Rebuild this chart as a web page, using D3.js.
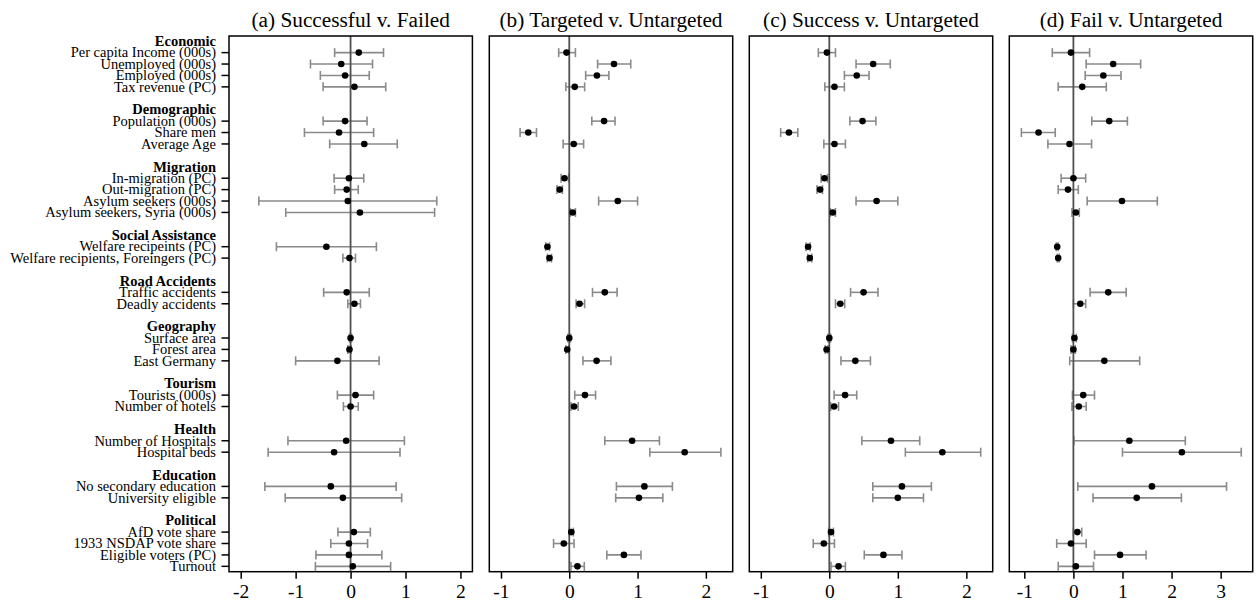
<!DOCTYPE html>
<html>
<head>
<meta charset="utf-8">
<script src="https://cdn.jsdelivr.net/npm/d3@7"></script>
<style>
  html, body { margin: 0; padding: 0; background: #fff; }
  svg { display: block; font-family: "Liberation Serif", "Times New Roman", serif; }
</style>
</head>
<body>
<svg id="chart" width="1259" height="606"></svg>
<script>
// Variable groups and the covariates listed under each one
const groupNames = ["Economic", "Demographic", "Migration", "Social Assistance", "Road Accidents",
  "Geography", "Tourism", "Health", "Education", "Political"];
const groupSizes = [4, 3, 4, 2, 2, 3, 2, 2, 2, 4];
const variables = [
  "Per capita Income (000s)", "Unemployed (000s)", "Employed (000s)", "Tax revenue (PC)",
  "Population (000s)", "Share men", "Average Age",
  "In-migration (PC)", "Out-migration (PC)", "Asylum seekers (000s)", "Asylum seekers, Syria (000s)",
  "Welfare recipeints (PC)", "Welfare recipients, Foreingers (PC)",
  "Traffic accidents", "Deadly accidents",
  "Surface area", "Forest area", "East Germany",
  "Tourists (000s)", "Number of hotels",
  "Number of Hospitals", "Hospital beds",
  "No secondary education", "University eligible",
  "AfD vote share", "1933 NSDAP vote share", "Eligible voters (PC)", "Turnout"
];

// Panel titles and x-axis ticks
const panelTitles = ["(a) Successful v. Failed", "(b) Targeted v. Untargeted",
  "(c) Success v. Untargeted", "(d) Fail v. Untargeted"];
const ticksA = [-2, -1, 0, 1, 2];
const ticksB = [-1, 0, 1, 2];
const ticksC = [-1, 0, 1, 2];
const ticksD = [-1, 0, 1, 2, 3];

// (a) Successful v. Failed: point estimates and confidence bounds
const estA = [0.15, -0.17, -0.10, 0.07, -0.10, -0.21, 0.25, -0.03, -0.07, -0.05, 0.17, -0.44, -0.02, -0.07,
  0.07, 0.00, -0.02, -0.24, 0.09, 0.00, -0.08, -0.30, -0.36, -0.14, 0.06, -0.03, -0.03, 0.04];
const loA = [-0.29, -0.73, -0.55, -0.50, -0.50, -0.84, -0.38, -0.30, -0.29, -1.67, -1.18, -1.35, -0.14, -0.49,
  -0.05, -0.02, -0.05, -1.00, -0.24, -0.13, -1.14, -1.50, -1.56, -1.19, -0.23, -0.36, -0.63, -0.64];
const hiA = [0.60, 0.40, 0.34, 0.64, 0.30, 0.42, 0.85, 0.24, 0.14, 1.57, 1.53, 0.47, 0.09, 0.34,
  0.18, 0.02, 0.01, 0.52, 0.42, 0.14, 0.98, 0.90, 0.83, 0.93, 0.36, 0.31, 0.57, 0.73];

// (b) Targeted v. Untargeted
const estB = [-0.04, 0.655, 0.405, 0.08, 0.51, -0.60, 0.065, -0.07, -0.14, 0.71, 0.05, -0.32, -0.29, 0.52,
  0.15, 0.00, -0.03, 0.40, 0.23, 0.07, 0.92, 1.69, 1.10, 1.02, 0.03, -0.08, 0.80, 0.12];
const loB = [-0.155, 0.415, 0.24, -0.05, 0.33, -0.72, -0.09, -0.12, -0.18, 0.43, 0.015, -0.345, -0.32, 0.34,
  0.10, -0.02, -0.05, 0.20, 0.08, 0.025, 0.52, 1.18, 0.69, 0.68, 0.00, -0.23, 0.55, 0.025];
const hiB = [0.09, 0.90, 0.58, 0.225, 0.67, -0.48, 0.21, -0.01, -0.10, 1.00, 0.09, -0.29, -0.26, 0.70,
  0.225, 0.02, -0.005, 0.61, 0.385, 0.13, 1.32, 2.22, 1.51, 1.37, 0.06, 0.07, 1.05, 0.22];

// (c) Success v. Untargeted
const estC = [-0.035, 0.64, 0.40, 0.075, 0.485, -0.59, 0.075, -0.07, -0.135, 0.69, 0.05, -0.31, -0.285, 0.50,
  0.16, 0.00, -0.04, 0.38, 0.23, 0.07, 0.90, 1.65, 1.06, 1.00, 0.025, -0.08, 0.79, 0.135];
const loC = [-0.16, 0.39, 0.22, -0.065, 0.30, -0.71, -0.08, -0.12, -0.18, 0.39, 0.015, -0.34, -0.315, 0.31,
  0.09, -0.02, -0.06, 0.17, 0.07, 0.02, 0.475, 1.11, 0.635, 0.635, -0.01, -0.235, 0.51, 0.025];
const hiC = [0.09, 0.89, 0.58, 0.22, 0.68, -0.46, 0.235, -0.025, -0.10, 1.00, 0.09, -0.28, -0.255, 0.71,
  0.225, 0.02, -0.02, 0.60, 0.40, 0.135, 1.32, 2.21, 1.49, 1.375, 0.06, 0.075, 1.06, 0.235];

// (d) Fail v. Untargeted
const estD = [-0.05, 0.81, 0.61, 0.18, 0.73, -0.71, -0.08, 0.00, -0.11, 0.99, 0.05, -0.33, -0.31, 0.71,
  0.14, 0.02, 0.00, 0.63, 0.20, 0.11, 1.14, 2.21, 1.60, 1.29, 0.08, -0.05, 0.95, 0.05];
const loD = [-0.43, 0.26, 0.24, -0.31, 0.375, -1.06, -0.52, -0.25, -0.31, 0.28, -0.03, -0.35, -0.33, 0.34,
  0.00, -0.02, -0.05, -0.075, -0.02, -0.03, 0.01, 1.00, 0.09, 0.40, 0.00, -0.34, 0.43, -0.31];
const hiD = [0.33, 1.37, 0.97, 0.67, 1.10, -0.37, 0.37, 0.25, 0.10, 1.71, 0.12, -0.31, -0.29, 1.075,
  0.25, 0.06, 0.04, 1.35, 0.43, 0.26, 2.28, 3.42, 3.12, 2.20, 0.17, 0.26, 1.48, 0.41];

const panels = [
  { title: panelTitles[0], est: estA, lo: loA, hi: hiA, ticks: ticksA, domain: [-2.213, 2.218], x0: 229 },
  { title: panelTitles[1], est: estB, lo: loB, hi: hiB, ticks: ticksB, domain: [-1.171, 2.393], x0: 489.3 },
  { title: panelTitles[2], est: estC, lo: loC, hi: hiC, ticks: ticksC, domain: [-1.168, 2.385], x0: 749.3 },
  { title: panelTitles[3], est: estD, lo: loD, hi: hiD, ticks: ticksD, domain: [-1.306, 3.653], x0: 1009.3 }
];

// Row layout: each group gets a header row, its variables, then a spacer row
const headerRows = [];
const varRows = [];
let r = 0, vi = 0;
groupNames.forEach((g, gi) => {
  headerRows.push({ name: g, row: r });
  r++;
  for (let k = 0; k < groupSizes[gi]; k++) { varRows.push({ name: variables[vi], row: r, idx: vi }); r++; vi++; }
  r++;
});

const panelW = 243.4;
const plotTop = 36, plotBottom = 571.7;
const y = d3.scaleLinear().domain([-0.456, 46.47]).range([plotTop, plotBottom]);

const svg = d3.select("#chart");
const FONT = '"Liberation Serif", "Times New Roman", serif';

panels.forEach((p, pi) => {
  const x = d3.scaleLinear().domain(p.domain).range([p.x0, p.x0 + panelW]);
  const g = svg.append("g");

  // Title
  g.append("text")
    .attr("x", p.x0 + panelW / 2).attr("y", 26.5)
    .attr("text-anchor", "middle")
    .attr("font-size", 21.3)
    .attr("fill", "#000")
    .text(p.title);

  // Bottom axis
  const axis = d3.axisBottom(x).tickValues(p.ticks).tickSize(7).tickPadding(5).tickFormat(d3.format("d"));
  const ax = g.append("g").attr("transform", `translate(0,${plotBottom})`).call(axis);
  ax.select(".domain").remove();
  ax.selectAll(".tick line").attr("stroke", "#000").attr("stroke-width", 1.5);
  ax.selectAll(".tick text").attr("font-family", FONT).attr("font-size", 19.5).attr("fill", "#000")
    .text(d => d < 0 ? "-" + Math.abs(d) : d);

  // Left axis with variable labels on the first panel only
  if (pi === 0) {
    const la = g.append("g");
    la.selectAll("line.vt").data(varRows).join("line")
      .attr("x1", p.x0 - 7.5).attr("x2", p.x0)
      .attr("y1", d => y(d.row)).attr("y2", d => y(d.row))
      .attr("stroke", "#000").attr("stroke-width", 1.5);
    la.selectAll("text.vl").data(varRows).join("text")
      .attr("x", p.x0 - 13).attr("y", d => y(d.row)).attr("dy", "0.33em")
      .attr("text-anchor", "end").attr("font-size", 14.5).attr("fill", "#000")
      .text(d => d.name);
    la.selectAll("text.hl").data(headerRows).join("text")
      .attr("x", p.x0 - 13).attr("y", d => y(d.row)).attr("dy", "0.33em")
      .attr("text-anchor", "end").attr("font-size", 14.5).attr("font-weight", "bold").attr("fill", "#000")
      .text(d => d.name);
  }

  // Confidence intervals with end caps
  const ci = g.append("g").attr("stroke", "#8a8a8a").attr("stroke-width", 1.6).attr("fill", "none");
  varRows.forEach(d => {
    const yy = y(d.row);
    const a = x(p.lo[d.idx]), b = x(p.hi[d.idx]);
    ci.append("line").attr("x1", a).attr("x2", b).attr("y1", yy).attr("y2", yy);
    ci.append("line").attr("x1", a).attr("x2", a).attr("y1", yy - 4.5).attr("y2", yy + 4.5);
    ci.append("line").attr("x1", b).attr("x2", b).attr("y1", yy - 4.5).attr("y2", yy + 4.5);
  });

  // Reference line at zero
  g.append("line")
    .attr("x1", x(0)).attr("x2", x(0)).attr("y1", plotTop).attr("y2", plotBottom)
    .attr("stroke", "#505050").attr("stroke-width", 1.8);

  // Point estimates
  g.selectAll("circle").data(varRows).join("circle")
    .attr("cx", d => x(p.est[d.idx])).attr("cy", d => y(d.row))
    .attr("r", 3.3).attr("fill", "#000");

  // Plot frame
  g.append("rect")
    .attr("x", p.x0).attr("y", plotTop).attr("width", panelW).attr("height", plotBottom - plotTop)
    .attr("fill", "none").attr("stroke", "#000").attr("stroke-width", 1.5);
});
</script>
</body>
</html>
